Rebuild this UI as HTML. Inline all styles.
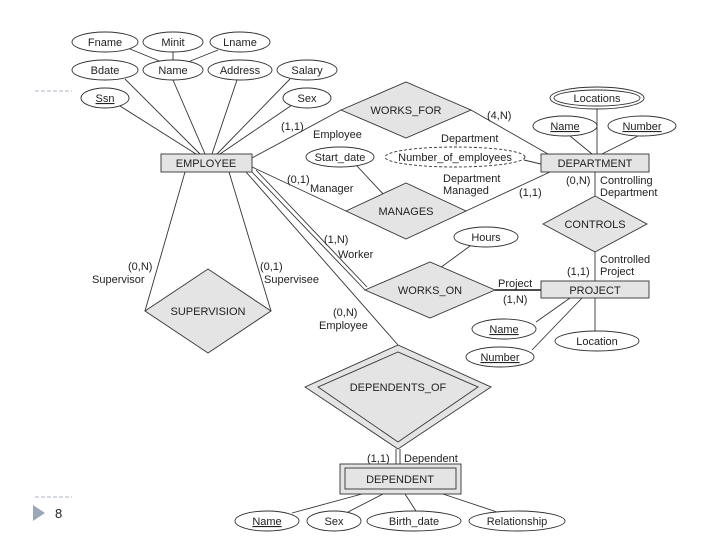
<!DOCTYPE html>
<html><head><meta charset="utf-8"><style>
html,body{margin:0;padding:0;background:#fff;}
svg{display:block;font-family:"Liberation Sans",sans-serif;}
text{font-size:11px;fill:#222;}
.c{text-anchor:middle;}
</style></head><body>
<svg width="720" height="540" viewBox="0 0 720 540" xmlns="http://www.w3.org/2000/svg">
<g stroke="#aab4c0" stroke-width="1" stroke-dasharray="4,2">
<line x1="35" y1="91" x2="72" y2="91"/><line x1="35" y1="497" x2="72" y2="497"/>
</g>
<polygon points="33,505 45,513 33,521" fill="#9aa8ba"/>
<text x="55" y="518" style="font-size:13px">8</text>

<g stroke="#333" stroke-width="0.9" fill="none">
<!-- employee attrs -->
<line x1="130" y1="49" x2="162" y2="62"/><line x1="173" y1="52" x2="173" y2="60"/><line x1="218" y1="50" x2="188" y2="62"/>
<line x1="125" y1="79" x2="200" y2="154"/><line x1="173" y1="80" x2="205" y2="154"/>
<line x1="237" y1="80" x2="212" y2="154"/><line x1="290" y1="79" x2="217" y2="154"/>
<line x1="120" y1="106" x2="196" y2="154"/><line x1="292" y1="105" x2="220" y2="154"/>
<!-- relationships -->
<line x1="252" y1="158" x2="341" y2="110"/><line x1="471" y1="110" x2="548" y2="154"/>
<line x1="252" y1="167" x2="346" y2="211"/><line x1="466" y1="211" x2="550" y2="172"/>
<line x1="357" y1="166" x2="385" y2="196"/>
<line x1="524" y1="160" x2="541" y2="164"/>
<line x1="597" y1="108" x2="597" y2="154"/><line x1="570" y1="136" x2="592" y2="154"/><line x1="638" y1="136" x2="602" y2="154"/>
<line x1="595" y1="172" x2="595" y2="196"/><line x1="595" y1="252" x2="595" y2="281"/>
<line x1="252" y1="172" x2="365" y2="290"/><line x1="256" y1="170" x2="367" y2="287"/>
<line x1="246" y1="172" x2="398" y2="345"/>
<line x1="185" y1="172" x2="145" y2="311"/><line x1="229" y1="172" x2="271" y2="311"/>
<line x1="495" y1="290" x2="541" y2="290" stroke-width="1.8"/>
<line x1="470" y1="246" x2="440" y2="268"/>
<line x1="570" y1="298" x2="536" y2="322"/><line x1="582" y1="298" x2="532" y2="350"/><line x1="595" y1="298" x2="595" y2="331"/>
<line x1="396" y1="449" x2="396" y2="464"/><line x1="400" y1="449" x2="400" y2="464"/>
<line x1="362" y1="494" x2="292" y2="513"/><line x1="383" y1="494" x2="348" y2="512"/>
<line x1="405" y1="494" x2="416" y2="511"/><line x1="443" y1="494" x2="497" y2="512"/>
</g>

<g stroke="#333" stroke-width="0.9" fill="#fff">
<ellipse cx="105" cy="42" rx="33" ry="10"/><ellipse cx="173" cy="42" rx="30" ry="10"/><ellipse cx="240" cy="42" rx="30" ry="10"/>
<ellipse cx="105" cy="70" rx="33" ry="10"/><ellipse cx="173" cy="70" rx="30" ry="10"/><ellipse cx="240" cy="70" rx="32" ry="10"/><ellipse cx="307" cy="70" rx="30" ry="10"/>
<ellipse cx="105" cy="98" rx="24" ry="10"/><ellipse cx="307" cy="98" rx="24" ry="10"/>
<ellipse cx="597" cy="98" rx="47" ry="11"/><ellipse cx="597" cy="98" rx="43" ry="8"/>
<ellipse cx="565" cy="126" rx="32" ry="10"/><ellipse cx="642" cy="126" rx="34" ry="10"/>
<ellipse cx="340" cy="157" rx="34" ry="10"/>
<ellipse cx="455" cy="157" rx="70" ry="10" stroke-dasharray="3,2"/>
<ellipse cx="486" cy="237" rx="32" ry="10"/>
<ellipse cx="504" cy="329" rx="32" ry="10"/><ellipse cx="500" cy="357" rx="34" ry="10"/><ellipse cx="597" cy="341" rx="42" ry="10"/>
<ellipse cx="267" cy="521" rx="32" ry="10"/><ellipse cx="334" cy="521" rx="27" ry="10"/><ellipse cx="414" cy="521" rx="47" ry="10"/><ellipse cx="517" cy="521" rx="48" ry="10"/>
</g>
<g stroke="#333" stroke-width="0.9" fill="#e4e4e4">
<rect x="161" y="154" width="91" height="18"/><rect x="541" y="154" width="108" height="18"/><rect x="541" y="281" width="108" height="17"/>
<rect x="340" y="464" width="121" height="30"/><rect x="345" y="468" width="111" height="21"/>
<polygon points="341,110 406,82 471,110 406,138"/>
<polygon points="346,211 406,183 466,211 406,239"/>
<polygon points="543,224 595,196 647,224 595,252"/>
<polygon points="365,290 430,262 495,290 430,318"/>
<polygon points="145,311 208,269 271,311 208,353"/>
<polygon points="305,387 398,345 491,387 398,449"/>
<polygon points="318,387 398,352 478,387 398,442"/>
</g>

<g class="c">
<text class="c" x="105" y="46">Fname</text><text class="c" x="173" y="46">Minit</text><text class="c" x="240" y="46">Lname</text>
<text class="c" x="105" y="74">Bdate</text><text class="c" x="173" y="74">Name</text><text class="c" x="240" y="74">Address</text><text class="c" x="307" y="74">Salary</text>
<text class="c" x="105" y="102" text-decoration="underline">Ssn</text><text class="c" x="307" y="102">Sex</text>
<text class="c" x="597" y="102">Locations</text>
<text class="c" x="565" y="130" text-decoration="underline">Name</text><text class="c" x="642" y="130" text-decoration="underline">Number</text>
<text class="c" x="340" y="161">Start_date</text><text class="c" x="455" y="161">Number_of_employees</text>
<text class="c" x="486" y="241">Hours</text>
<text class="c" x="504" y="333" text-decoration="underline">Name</text><text class="c" x="500" y="361" text-decoration="underline">Number</text><text class="c" x="597" y="345">Location</text>
<text class="c" x="267" y="525" text-decoration="underline">Name</text><text class="c" x="334" y="525">Sex</text><text class="c" x="414" y="525">Birth_date</text><text class="c" x="517" y="525">Relationship</text>
<text class="c" x="206" y="167">EMPLOYEE</text><text class="c" x="595" y="167">DEPARTMENT</text><text class="c" x="595" y="294">PROJECT</text>
<text class="c" x="400" y="483">DEPENDENT</text>
<text class="c" x="406" y="114">WORKS_FOR</text><text class="c" x="406" y="215">MANAGES</text><text class="c" x="595" y="228">CONTROLS</text>
<text class="c" x="430" y="294">WORKS_ON</text><text class="c" x="208" y="315">SUPERVISION</text><text class="c" x="398" y="391">DEPENDENTS_OF</text>
</g>
<g>
<text x="281" y="130">(1,1)</text><text x="313" y="138">Employee</text>
<text x="487" y="119">(4,N)</text><text x="441" y="142">Department</text>
<text x="287" y="183">(0,1)</text><text x="310" y="192">Manager</text>
<text x="443" y="182">Department</text><text x="443" y="194">Managed</text><text x="519" y="196">(1,1)</text>
<text x="566" y="184">(0,N)</text><text x="600" y="184">Controlling</text><text x="600" y="196">Department</text>
<text x="324" y="243">(1,N)</text><text x="338" y="258">Worker</text>
<text x="128" y="270">(0,N)</text><text x="92" y="283">Supervisor</text>
<text x="260" y="270">(0,1)</text><text x="264" y="283">Supervisee</text>
<text x="600" y="263">Controlled</text><text x="600" y="275">Project</text><text x="567" y="275">(1,1)</text>
<text x="498" y="287">Project</text><text x="503" y="303">(1,N)</text>
<text x="333" y="316">(0,N)</text><text x="319" y="329">Employee</text>
<text x="367" y="462">(1,1)</text><text x="404" y="462">Dependent</text>
</g>
</svg>
</body></html>
